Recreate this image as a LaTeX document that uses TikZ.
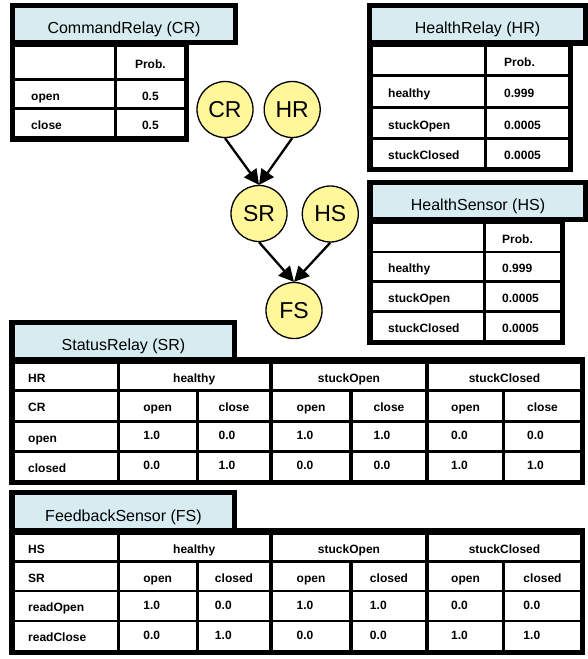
\documentclass[tikz,border=0pt]{standalone}
\usepackage{fontspec}
\setmainfont{Liberation Sans}
\usetikzlibrary{arrows.meta}
\definecolor{tabblue}{RGB}{214,236,240}
\definecolor{nodeyellow}{RGB}{255,247,153}
\tikzset{
  frame/.style={fill=black},
  cellbg/.style={fill=white},
  tabbg/.style={fill=tabblue},
  celltext/.style={inner sep=0pt, yshift=-2.5pt, font=\bfseries\fontsize{12}{14}\selectfont},
  tabtext/.style={inner sep=0pt, anchor=base, font=\fontsize{16}{19}\selectfont},
  bnode/.style={circle, draw=black, line width=1.3pt, fill=nodeyellow, minimum size=56pt, inner sep=0pt, font=\fontsize{23}{27}\selectfont},
  arr/.style={line width=2.3pt, -{Triangle[length=15pt,width=15pt]}}
}
\begin{document}
\begin{tikzpicture}[x=1pt,y=-1pt]
\useasboundingbox (0,0) rectangle (588,659);
\fill[white] (0,0) rectangle (588,659);

% ---------------- CommandRelay (CR)
\fill[frame] (10,3) rectangle (238,45);
\fill[tabbg] (15,8) rectangle (233,40);
\fill[frame] (10,40) rectangle (189,142);
\foreach \ya/\yb in {46.5/78.3,81/107.3,110/136.3}{
  \fill[cellbg] (15,\ya) rectangle (113.5,\yb);
  \fill[cellbg] (117.3,\ya) rectangle (183.5,\yb);
}
\node[tabtext] (crtitle) at (124,33) {CommandRelay (CR)};
\node[celltext, anchor=mid] (crprob) at (150.4,63.4) {Prob.};
\node[celltext, anchor=mid west] (cropen) at (31,95.2) {open};
\node[celltext, anchor=mid] (cropenv) at (150.4,95.2) {0.5};
\node[celltext, anchor=mid west] (crclose) at (31,124.2) {close};
\node[celltext, anchor=mid] (crclosev) at (150.4,124.2) {0.5};

% ---------------- HealthRelay (HR)
\fill[frame] (367,3) rectangle (588,46);
\fill[tabbg] (372,8) rectangle (583,40);
\fill[frame] (367,40) rectangle (573,172);
\foreach \ya/\yb in {46.7/74,76.7/106,108.7/137.3,140/166.7}{
  \fill[cellbg] (372.7,\ya) rectangle (484,\yb);
  \fill[cellbg] (487.3,\ya) rectangle (568,\yb);
}
\node[tabtext] (hrtitle) at (477.5,33) {HealthRelay (HR)};
\node[celltext, anchor=mid west] (hrprob) at (504,61.4) {Prob.};
\node[celltext, anchor=mid west] (hrh) at (388,92.4) {healthy};
\node[celltext, anchor=mid west] (hrhv) at (504,92.4) {0.999};
\node[celltext, anchor=mid west] (hro) at (388,124) {stuckOpen};
\node[celltext, anchor=mid west] (hrov) at (504,124) {0.0005};
\node[celltext, anchor=mid west] (hrc) at (388,154.4) {stuckClosed};
\node[celltext, anchor=mid west] (hrcv) at (504,154.4) {0.0005};

% ---------------- HealthSensor (HS)
\fill[frame] (367,180) rectangle (588,222);
\fill[tabbg] (373,185) rectangle (583,217);
\fill[frame] (367,217) rectangle (565,345);
\foreach \ya/\yb in {224.3/251,253.3/280,283.3/310,313.3/340}{
  \fill[cellbg] (373,\ya) rectangle (482.7,\yb);
  \fill[cellbg] (486,\ya) rectangle (560,\yb);
}
\node[tabtext] (hstitle) at (478,210) {HealthSensor (HS)};
\node[celltext, anchor=mid west] (hsprob) at (502,238.7) {Prob.};
\node[celltext, anchor=mid west] (hsh) at (388,267.7) {healthy};
\node[celltext, anchor=mid west] (hshv) at (502,267.7) {0.999};
\node[celltext, anchor=mid west] (hso) at (388,297.7) {stuckOpen};
\node[celltext, anchor=mid west] (hsov) at (502,297.7) {0.0005};
\node[celltext, anchor=mid west] (hsc) at (388,327.7) {stuckClosed};
\node[celltext, anchor=mid west] (hscv) at (502,327.7) {0.0005};

% ---------------- StatusRelay (SR)
\fill[frame] (9,320) rectangle (237,362);
\fill[tabbg] (15,325) rectangle (232,357);
\fill[frame] (9,357) rectangle (585,485);
\foreach \ya/\yb [count=\r] in {363.5/389,392/419.5,422.5/449.5,452.5/479.5}{
  \fill[cellbg] (15,\ya) rectangle (116.7,\yb);
  \ifnum\r=1
    \foreach \xa/\xb in {119.5/269,273/425,429/580}{\fill[cellbg] (\xa,\ya) rectangle (\xb,\yb);}
  \else
    \foreach \xa/\xb in {119.5/196,199/269,273/349,353/425,429/502,505/580}{\fill[cellbg] (\xa,\ya) rectangle (\xb,\yb);}
  \fi
}
\node[tabtext] (srtitle) at (123.5,350) {StatusRelay (SR)};
\node[celltext, anchor=mid west] (srhr) at (28,377.2) {HR};
\node[celltext, anchor=mid] (srg1) at (194.2,377.2) {healthy};
\node[celltext, anchor=mid] (srg2) at (349,377.2) {stuckOpen};
\node[celltext, anchor=mid] (srg3) at (504.5,377.2) {stuckClosed};
\node[celltext, anchor=mid west] (srcr) at (28,406.7) {CR};
\node[celltext, anchor=mid] (srs1) at (157.7,406.7) {open};
\node[celltext, anchor=mid] (srs2) at (234,406.7) {close};
\node[celltext, anchor=mid] (srs3) at (311,406.7) {open};
\node[celltext, anchor=mid] (srs4) at (389,406.7) {close};
\node[celltext, anchor=mid] (srs5) at (465.5,406.7) {open};
\node[celltext, anchor=mid] (srs6) at (542.5,406.7) {close};
\node[celltext, anchor=mid west] (srro) at (28,437) {open};
\node[celltext, anchor=mid west] (srrc) at (28,467) {closed};
\foreach \c/\va/\vb in {1/1.0/0.0,2/0.0/1.0,3/1.0/0.0,4/1.0/0.0,5/0.0/1.0,6/0.0/1.0}{
  \node[celltext, anchor=mid west] (srv\c a) at ([yshift=2.5pt]srs\c.west |- 0,437) {\va};
  \node[celltext, anchor=mid west] (srv\c b) at ([yshift=2.5pt]srs\c.west |- 0,467) {\vb};
}

% ---------------- FeedbackSensor (FS)
\fill[frame] (9,490) rectangle (237,534);
\fill[tabbg] (15,495) rectangle (232,528);
\fill[frame] (9,528) rectangle (585,655);
\foreach \ya/\yb [count=\r] in {535/560,563/590,592/619.5,622/649.5}{
  \fill[cellbg] (15,\ya) rectangle (116.7,\yb);
  \ifnum\r=1
    \foreach \xa/\xb in {119.5/269,273/425,429/580}{\fill[cellbg] (\xa,\ya) rectangle (\xb,\yb);}
  \else
    \foreach \xa/\xb in {119.5/196,199/269,273/349,353/425,429/502,505/580}{\fill[cellbg] (\xa,\ya) rectangle (\xb,\yb);}
  \fi
}
\node[tabtext] (fstitle) at (123.5,521) {FeedbackSensor (FS)};
\node[celltext, anchor=mid west] (fshs) at (28,548.5) {HS};
\node[celltext, anchor=mid] (fsg1) at (194.2,548.5) {healthy};
\node[celltext, anchor=mid] (fsg2) at (349,548.5) {stuckOpen};
\node[celltext, anchor=mid] (fsg3) at (504.5,548.5) {stuckClosed};
\node[celltext, anchor=mid west] (fssr) at (28,577.5) {SR};
\node[celltext, anchor=mid] (fss1) at (157.7,577.5) {open};
\node[celltext, anchor=mid] (fss2) at (234,577.5) {closed};
\node[celltext, anchor=mid] (fss3) at (311,577.5) {open};
\node[celltext, anchor=mid] (fss4) at (389,577.5) {closed};
\node[celltext, anchor=mid] (fss5) at (465.5,577.5) {open};
\node[celltext, anchor=mid] (fss6) at (542.5,577.5) {closed};
\node[celltext, anchor=mid west] (fsro) at (28,606.7) {readOpen};
\node[celltext, anchor=mid west] (fsrc) at (28,636.7) {readClose};
\foreach \c/\va/\vb in {1/1.0/0.0,2/0.0/1.0,3/1.0/0.0,4/1.0/0.0,5/0.0/1.0,6/0.0/1.0}{
  \node[celltext, anchor=mid west] (fsv\c a) at ([yshift=2.5pt]fss\c.west |- 0,606.7) {\va};
  \node[celltext, anchor=mid west] (fsv\c b) at ([yshift=2.5pt]fss\c.west |- 0,636.7) {\vb};
}

% ---------------- Network
\node[bnode] (CR) at (225,109.5) {CR};
\node[bnode] (HR) at (292.2,109.5) {HR};
\node[bnode] (SR) at (259,213.5) {SR};
\node[bnode] (HS) at (330.3,214) {HS};
\node[bnode] (FS) at (294,310.5) {FS};
\draw[arr] (CR.south) -- (SR.north);
\draw[arr] (HR.south) -- (SR.north);
\draw[arr] (SR.south) -- (FS.north);
\draw[arr] (HS.south) -- (FS.north);
\end{tikzpicture}
\end{document}
